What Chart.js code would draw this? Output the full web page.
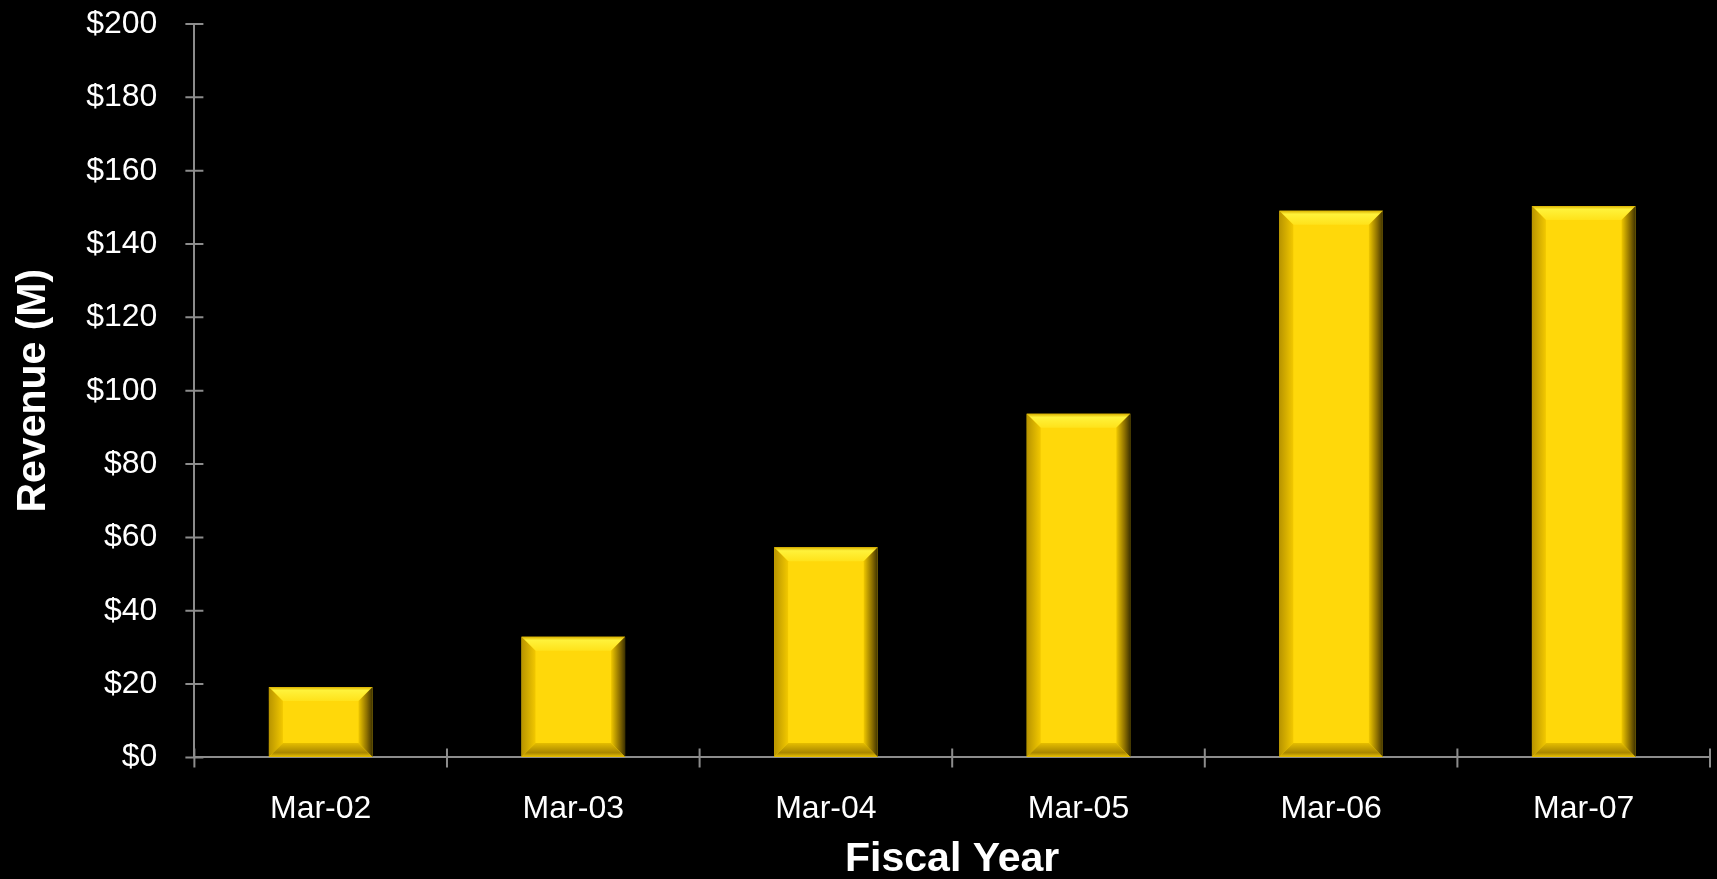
<!DOCTYPE html>
<html>
<head>
<meta charset="utf-8">
<script src="https://cdn.jsdelivr.net/npm/chart.js@4/dist/chart.umd.min.js"></script>
<style>
  html, body { margin: 0; padding: 0; background: #000; }
  #wrap { width: 1717px; height: 879px; }
</style>
</head>
<body>
<div id="wrap"><canvas id="revenueChart"></canvas></div>
<script>
const years = ['Mar-02', 'Mar-03', 'Mar-04', 'Mar-05', 'Mar-06', 'Mar-07'];
const revenue = [19.2, 32.9, 57.3, 93.7, 149.1, 150.4];
const yTicks = [0, 20, 40, 60, 80, 100, 120, 140, 160, 180, 200];

const axisGray = '#8c8c8c';

// bevel look on each bar, drawn from the bar element geometry
const bevelPlugin = {
    id: 'bevel',
    afterDatasetsDraw(chart) {
        const ctx = chart.ctx;
        const meta = chart.getDatasetMeta(0);
        for (let bar of meta.data) {
            const l = bar.x - bar.width / 2, r = bar.x + bar.width / 2;
            const t = bar.y, b = bar.base;
            const bv = Math.min(14, (b - t) / 3);
            ctx.save();
            // top
            let g = ctx.createLinearGradient(0, t, 0, t + bv);
            g.addColorStop(0, '#d9b000');
            g.addColorStop(0.25, '#fff23a');
            g.addColorStop(1, '#ffe21a');
            ctx.fillStyle = g;
            ctx.beginPath();
            ctx.moveTo(l, t); ctx.lineTo(r, t); ctx.lineTo(r - bv, t + bv); ctx.lineTo(l + bv, t + bv);
            ctx.closePath(); ctx.fill();
            // left
            g = ctx.createLinearGradient(l, 0, l + bv, 0);
            g.addColorStop(0, '#b89400');
            g.addColorStop(1, '#f2c800');
            ctx.fillStyle = g;
            ctx.beginPath();
            ctx.moveTo(l, t); ctx.lineTo(l + bv, t + bv); ctx.lineTo(l + bv, b - bv); ctx.lineTo(l, b);
            ctx.closePath(); ctx.fill();
            // right
            g = ctx.createLinearGradient(r, 0, r - bv, 0);
            g.addColorStop(0, '#3e3200');
            g.addColorStop(0.4, '#8c6f00');
            g.addColorStop(1, '#f0c800');
            ctx.fillStyle = g;
            ctx.beginPath();
            ctx.moveTo(r, t); ctx.lineTo(r, b); ctx.lineTo(r - bv, b - bv); ctx.lineTo(r - bv, t + bv);
            ctx.closePath(); ctx.fill();
            // bottom
            g = ctx.createLinearGradient(0, b, 0, b - bv);
            g.addColorStop(0, '#e8c000');
            g.addColorStop(0.3, '#a88600');
            g.addColorStop(1, '#e6be00');
            ctx.fillStyle = g;
            ctx.beginPath();
            ctx.moveTo(l, b); ctx.lineTo(l + bv, b - bv); ctx.lineTo(r - bv, b - bv); ctx.lineTo(r, b);
            ctx.closePath(); ctx.fill();
            ctx.restore();
        }
    }
};

// tick marks cross the axis line, 9px each side
const crossTicks = {
    id: 'crossTicks',
    afterDatasetsDraw(chart) {
        const ctx = chart.ctx;
        const area = chart.chartArea;
        const xs = chart.scales.x, ys = chart.scales.y;
        ctx.save();
        ctx.strokeStyle = axisGray;
        ctx.lineWidth = 2;
        ctx.beginPath();
        for (let i = 0; i < ys.ticks.length; i++) {
            const py = ys.getPixelForTick(i);
            ctx.moveTo(area.left - 9, py); ctx.lineTo(area.left + 9, py);
        }
        for (let i = 0; i <= years.length; i++) {
            const px = xs.getPixelForValue(i - 0.5);
            ctx.moveTo(px, area.bottom + 10); ctx.lineTo(px, area.bottom - 9);
        }
        ctx.stroke();
        ctx.restore();
    }
};

const config = {
    type: 'bar',
    data: {
        labels: years,
        datasets: [{
            label: 'Revenue',
            data: revenue,
            backgroundColor: '#ffd80a',
            borderWidth: 0,
            barPercentage: 0.41,
            categoryPercentage: 1
        }]
    },
    options: {
        responsive: true,
        maintainAspectRatio: false,
        animation: false,
        layout: { padding: { top: 24, right: 7, left: 9, bottom: -5 } },
        plugins: {
            legend: { display: false },
            tooltip: { enabled: false }
        },
        scales: {
            x: {
                grid: {
                    drawOnChartArea: false,
                    tickColor: 'rgba(0,0,0,0)',
                    tickLength: 33,
                    offset: true
                },
                border: { color: axisGray, width: 2 },
                ticks: {
                    color: '#ffffff',
                    font: { family: 'Liberation Sans, Arial', size: 32 },
                    padding: 0
                },
                title: {
                    display: true,
                    text: 'Fiscal Year',
                    color: '#ffffff',
                    font: { family: 'Liberation Sans, Arial', size: 41, weight: 'bold' },
                    padding: { top: 6, bottom: 0 }
                }
            },
            y: {
                min: 0,
                max: 200,
                afterBuildTicks: (scale) => {
                    scale.ticks = yTicks.map(v => ({ value: v }));
                },
                grid: {
                    drawOnChartArea: false,
                    tickColor: 'rgba(0,0,0,0)',
                    tickLength: 37
                },
                border: { color: axisGray, width: 2 },
                ticks: {
                    color: '#ffffff',
                    font: { family: 'Liberation Sans, Arial', size: 32 },
                    padding: 0,
                    callback: (v) => '$' + v
                },
                title: {
                    display: true,
                    text: 'Revenue (M)',
                    color: '#ffffff',
                    font: { family: 'Liberation Sans, Arial', size: 41, weight: 'bold' },
                    padding: { top: 0, bottom: 28 }
                }
            }
        }
    },
    plugins: [bevelPlugin, crossTicks]
};

new Chart(document.getElementById('revenueChart'), config);
</script>
</body>
</html>
